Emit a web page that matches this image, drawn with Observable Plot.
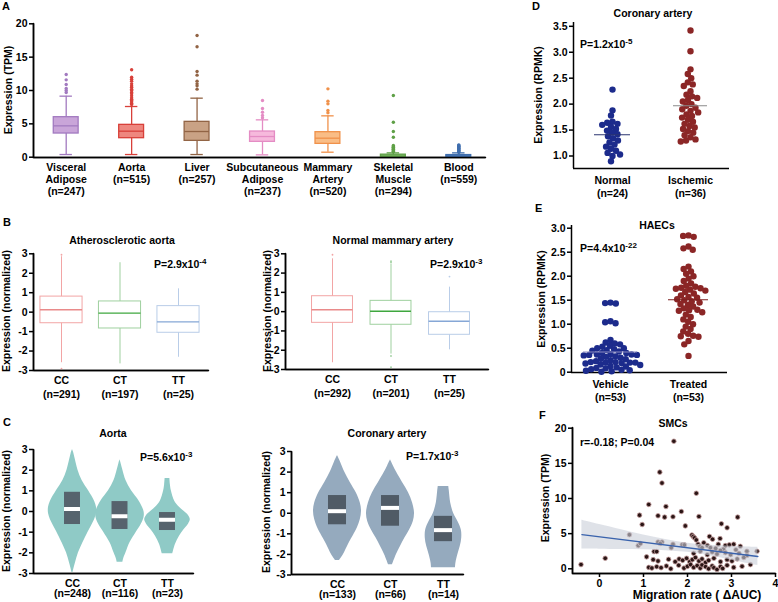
<!DOCTYPE html>
<html><head><meta charset="utf-8">
<script src="https://cdn.jsdelivr.net/npm/d3@7"></script>
<script src="https://cdn.jsdelivr.net/npm/@observablehq/plot@0.6"></script>
<style>
body{margin:0;background:#fff;}
#fig{position:relative;width:778px;height:602px;overflow:hidden;background:#fff;font-family:'Liberation Sans',Arial,Helvetica,sans-serif;font-weight:bold;color:#000;}
.panel{position:absolute;}
.panel svg{position:absolute;left:0;top:0;}
.lbl{position:absolute;white-space:nowrap;}
.lbl sup{font-size:8px;vertical-align:4px;line-height:0;}
</style>
</head><body><div id="fig"></div>
<script>
// ---------------- DATA ----------------
// Panel A: tissues (TPM box plots)
const tissues = ["Visceral Adipose","Aorta","Liver","Subcutaneous Adipose","Mammary Artery","Skeletal Muscle","Blood"];
const tissueN = [247,515,257,237,520,294,559];
const tpmLow = [0.4,0.4,0.4,0.35,0.75,0,0];
const tpmQ1 = [3.55,2.85,2.45,2.3,2.0,0.02,0.05];
const tpmMedian = [4.7,3.9,3.85,3.1,2.85,0.12,0.16];
const tpmQ3 = [6.0,4.85,5.3,3.85,3.75,0.38,0.32];
const tpmHigh = [9.15,7.6,8.85,5.6,6.2,0.65,0.65];
const tpmOutliers = [
  [9.7,10.0,10.3,10.9,11.6,12.4],
  [7.9,8.1,8.3,8.5,8.7,8.9,9.2,9.5,9.7,10.0,10.2,10.5,10.7,11.0,11.4,11.7,12.0,13.1],
  [10.2,10.7,11.0,11.4,12.3,12.85,16.55,18.25],
  [5.9,6.25,6.75,7.3,8.5],
  [6.65,7.0,8.0,8.4,10.25],
  [0.8,0.9,1.0,1.1,1.2,1.3,1.4,1.5,1.6,1.75,3.0,3.85,5.25,9.25],
  [0.75,0.85,0.95,1.05,1.15,1.25,1.35,1.45,1.55,1.65,1.75,1.85]
];
const tpmTicks = [0,5,10,15,20];

// Panel B: genotype box plots (normalized expression)
const genotypes = ["CC","CT","TT"];
const normTicks = [-3,-2,-1,0,1,2,3];
const athN = [291,197,25];
const athLow = [-2.6,-2.66,-2.32];
const athQ1 = [-0.57,-0.84,-1.06];
const athMedian = [0.12,-0.05,-0.5];
const athQ3 = [0.8,0.55,0.31];
const athHigh = [2.85,2.54,1.2];
const athOutliers = [[2.95,-2.9],[],[]];
const mamN = [292,201,25];
const mamLow = [-2.65,-2.2,-1.98];
const mamQ1 = [-0.58,-0.68,-1.2];
const mamMedian = [0.1,0.02,-0.5];
const mamQ3 = [0.8,0.56,-0.03];
const mamHigh = [2.74,2.45,1.27];
const mamOutliers = [[2.95],[2.55,2.62,-2.3,-2.88],[1.82]];

// Panel C: violins (y, relative half-width)
const aorN = [248,116,23];
const aorQ1 = [-0.63,-0.87,-0.92];
const aorMedian = [0.12,-0.23,-0.4];
const aorQ3 = [0.93,0.48,-0.05];
const violinAortaCC = [[3.0,0],[2.8,0.06],[2.5,0.12],[2.0,0.23],[1.5,0.4],[1.0,0.67],[0.5,0.92],[0.2,1],[-0.1,1],[-0.4,0.92],[-0.7,0.79],[-1.0,0.65],[-1.5,0.44],[-2.0,0.25],[-2.5,0.12],[-2.95,0.02]];
const violinAortaCT = [[2.5,0],[2.3,0.05],[2.0,0.12],[1.5,0.25],[1.0,0.48],[0.5,0.8],[0.0,1],[-0.3,1],[-0.7,0.85],[-1.0,0.68],[-1.5,0.42],[-2.0,0.25],[-2.3,0.15],[-2.45,0.12]];
const violinAortaTT = [[1.6,0.1],[1.3,0.12],[1.0,0.16],[0.5,0.3],[0.2,0.5],[0.0,0.7],[-0.2,0.88],[-0.4,0.95],[-0.6,0.88],[-0.9,0.68],[-1.2,0.5],[-1.6,0.33],[-2.05,0.22]];
const corN = [133,66,14];
const corQ1 = [-0.56,-0.63,-1.38];
const corMedian = [0.1,0.26,-0.82];
const corQ3 = [0.86,0.86,-0.15];
const violinCoronaryCC = [[2.8,0],[2.5,0.12],[2.0,0.3],[1.5,0.53],[1.0,0.78],[0.5,0.95],[0.1,1],[-0.3,0.95],[-0.7,0.83],[-1.0,0.7],[-1.5,0.46],[-2.0,0.25],[-2.3,0.08]];
const violinCoronaryCT = [[2.6,0],[2.3,0.12],[2.0,0.25],[1.5,0.5],[1.0,0.75],[0.5,0.92],[0.0,1],[-0.4,0.95],[-0.8,0.8],[-1.2,0.6],[-1.6,0.42],[-2.0,0.25],[-2.5,0.08]];
const violinCoronaryTT = [[1.3,0.22],[1.1,0.24],[0.5,0.3],[0.0,0.42],[-0.4,0.6],[-0.8,0.74],[-1.2,0.76],[-1.6,0.7],[-2.0,0.6],[-2.4,0.52],[-2.65,0.5]];

// Panel D: coronary artery dot plot (RPMK)
const dGroups = ["Normal","Ischemic"];
const dN = [24,36];
const dNormal = [2.28,1.88,1.78,1.66,1.64,1.62,1.6,1.56,1.52,1.49,1.45,1.42,1.38,1.34,1.3,1.26,1.22,1.18,1.14,1.1,1.06,1.03,1.0,0.9];
const dIschemic = [3.42,3.02,2.67,2.58,2.5,2.42,2.38,2.35,2.25,2.18,2.15,2.12,2.08,2.05,2.0,1.97,1.93,1.9,1.87,1.84,1.8,1.77,1.74,1.7,1.66,1.62,1.58,1.55,1.52,1.48,1.45,1.4,1.36,1.32,1.3,1.28];
const dMeans = [1.41,1.97];
const dTicks = [1.0,1.5,2.0,2.5,3.0,3.5];

// Panel E: HAECs dot plot (RPMK)
const eGroups = ["Vehicle","Treated"];
const eN = [53,53];
const eVehicle = [1.45,1.44,1.43,1.06,1.04,1.02,0.67,0.62,0.6,0.58,0.55,0.53,0.5,0.5,0.48,0.46,0.45,0.43,0.4,0.4,0.38,0.37,0.37,0.36,0.36,0.35,0.33,0.32,0.3,0.28,0.27,0.25,0.23,0.21,0.21,0.2,0.2,0.2,0.19,0.18,0.16,0.15,0.13,0.12,0.1,0.09,0.08,0.06,0.05,0.04,0.03,0.02,0.01];
const eTreated = [2.85,2.84,2.82,2.62,2.58,2.55,2.2,2.15,2.1,2.05,2.0,1.95,1.9,1.85,1.8,1.78,1.76,1.75,1.74,1.72,1.7,1.67,1.64,1.6,1.57,1.55,1.52,1.5,1.48,1.45,1.42,1.4,1.37,1.33,1.3,1.29,1.28,1.25,1.2,1.15,1.1,1.05,1.0,0.95,0.9,0.85,0.8,0.76,0.75,0.74,0.65,0.58,0.34];
const eMeans = [0.42,1.51];
const eTicks = [0,0.5,1.0,1.5,2.0,2.5,3.0];

// Panel F: SMCs scatter
const smcRate = [1.69,1.37,1.42,2.2,1.12,1.51,1.86,0.91,1.33,1.48,1.67,2.26,3.14,0.97,1.95,2.77,2.9,0.68,-0.42,0.13,1.07,0.88,0.93,1.33,1.42,1.38,1.24,1.3,1.67,1.63,1.88,1.93,2.1,2.13,2.16,2.2,2.24,2.28,2.33,2.37,2.45,2.5,2.57,2.52,2.64,2.7,2.74,2.82,2.86,2.95,3.05,3.1,3.2,3.35,3.58,2.14,2.29,2.45,2.56,2.67,2.75,2.86,2.98,3.17,3.35,1.22,1.33,1.57,1.72,1.81,1.89,1.98,2.05,2.11,2.18,2.26,2.33,2.41,2.48,2.6,2.75,2.9,3.01,3.13,3.28,3.43,1.12,1.19,1.3,1.4,1.52,1.62,1.8,1.92,2.0,2.07,2.14,2.22,2.29,2.33,2.41,2.48,2.56,2.6,2.67,2.75,2.8,2.9,3.05,3.24];
const smcTPM = [18.15,13.75,12.2,10.75,9.15,8.86,8.15,7.63,7.54,7.35,7.4,7.44,7.35,6.3,6.1,6.4,5.83,4.84,0.6,1.5,1.7,3.3,3.6,3.8,3.8,3.6,2.45,2.45,3.5,3.0,3.4,3.4,4.8,4.6,4.4,4.1,3.5,3.2,3.0,3.7,3.3,4.6,4.2,3.0,2.9,3.5,4.3,2.8,3.3,3.4,3.5,2.7,3.2,2.5,2.5,2.2,2.5,2.0,2.4,2.1,2.6,2.3,2.0,2.2,1.9,1.3,1.1,1.35,1.0,1.4,1.2,1.5,1.0,1.3,1.6,1.1,1.4,0.9,1.2,1.5,1.0,1.3,1.1,1.4,1.6,0.6,0.2,0.1,0.3,0.15,0.4,0.0,0.5,0.1,0.35,0.6,0.2,0.45,0.1,0.55,0.3,0.0,0.4,0.15,-0.1,0.3,0.05,0.5,0.2,0.35];
const fitRate = [-0.4,3.6];
const fitTPM = [4.85,1.75];
const ciRate = [-0.4,0,0.5,1,1.5,2,2.5,3,3.6];
const ciLow = [2.8,2.79,2.75,2.71,2.58,2.34,1.85,1.22,0.45];
const ciHigh = [6.9,6.29,5.55,4.81,4.18,3.64,3.35,3.22,3.05];
const rateTicks = [0,1,2,3,4];

// ---------------- STYLE ----------------
const FONT = "'Liberation Sans', Arial, Helvetica, sans-serif";
const tissueFill = ["#c9a5d9","#ee877f","#c9a285","#f6b9dc","#f9bd86","#78b462","#5482bd"];
const tissueStroke = ["#a27ac0","#d8403a","#926445","#e48cc4","#f0914a","#5fa047","#3f6eae"];
const genoStroke = ["#f2a5a5","#9fd09f","#b9cde8"];
const genoMedian = ["#e98a8a","#3fa73f","#86a7d6"];

const fig = document.getElementById("fig");
const inv = (dom, rng, p) => dom[0] + (p - rng[0]) * (dom[1] - dom[0]) / (rng[1] - rng[0]);
const plotStyle = () => ({background: "transparent", overflow: "visible", fontFamily: FONT, fontSize: "10.5px", fontWeight: "bold", color: "#000"});

// box: svg placement; frame: [left, top, right, bottom] in page pixels; ranges in page pixels
function addPlot(box, frame, opts) {
  const {xDomain, xRange, yDomain, yRange, marks = [], x = {}, y = {}, axisLines = true, ...rest} = opts;
  const margins = {
    marginLeft: frame[0] - box.x, marginTop: frame[1] - box.y,
    marginRight: box.x + box.w - frame[2], marginBottom: box.y + box.h - frame[3]
  };
  const o = {width: box.w, height: box.h, ...margins, style: plotStyle(), ...rest};
  if (xDomain) o.x = {...x, domain: xDomain, range: xRange.map(v => v - box.x)};
  else if (Object.keys(x).length) o.x = x;
  o.y = {...y, domain: yDomain, range: yRange.map(v => v - box.y)};
  const pre = [];
  if (axisLines && xDomain) {
    // L-shaped axis line (left edge and bottom edge of the frame), through the plot's scales
    const xl = inv(xDomain, xRange, frame[0]), xr = inv(xDomain, xRange, frame[2]);
    const yt = inv(yDomain, yRange, frame[1]), yb = inv(yDomain, yRange, frame[3]);
    pre.push(Plot.line([[xl, yt], [xl, yb], [xr, yb]], {x: d => d[0], y: d => d[1], stroke: "#000", strokeWidth: 1.5, strokeLinejoin: "miter"}));
  }
  o.marks = [...pre, ...marks];
  const wrap = document.createElement("div");
  wrap.className = "panel";
  Object.assign(wrap.style, {left: box.x + "px", top: box.y + "px", width: box.w + "px", height: box.h + "px"});
  wrap.appendChild(Plot.plot(o));
  if (axisLines) {
    const fw = frame[2] - frame[0], fh = frame[3] - frame[1];
    wrap.appendChild(Plot.plot({
      width: box.w, height: box.h, ...margins, style: plotStyle(),
      marks: [Plot.frame({stroke: "#000", strokeWidth: 1.5, strokeDasharray: `0 ${fw + fh} ${fw + fh}`})]
    }));
  }
  fig.appendChild(wrap);
}

function place(html, x, y, {anchor = "middle", size = 10.5, rotate = false} = {}) {
  const el = document.createElement("div");
  el.className = "lbl";
  el.innerHTML = html;
  el.style.fontSize = size + "px";
  el.style.lineHeight = size + "px";
  el.style.left = x + "px";
  el.style.top = y + "px";
  const tx = anchor === "middle" ? "-50%" : anchor === "end" ? "-100%" : "0";
  el.style.transform = `translate(${tx}, -50%)` + (rotate ? " rotate(-90deg)" : "");
  el.style.pointerEvents = "none";
  fig.appendChild(el);
}

const yAxisOpts = {tickSize: 4, tickPadding: 2, label: null, strokeWidth: 1.5};
// category axes: invisible short ticks (labels only)
const catAxis = (pad) => ({tickSize: 3, tickPadding: pad, strokeOpacity: 0, label: null});

// ---------------- PANEL A ----------------
const boxHalfA = 0.19, capHalfA = 0.095;
const tissueRows = tissues.map((t, i) => ({i, low: tpmLow[i], q1: tpmQ1[i], median: tpmMedian[i], q3: tpmQ3[i], high: tpmHigh[i], fill: tissueFill[i], stroke: tissueStroke[i]}));
const tissueOut = tissues.flatMap((t, i) => tpmOutliers[i].map(v => ({i, value: v, stroke: tissueStroke[i]})));
addPlot({x: 0, y: 0, w: 500, h: 200}, [33, 23, 485, 157], {
  xDomain: [0, 6], xRange: [65.7, 458.3],
  yDomain: [0, 20], yRange: [156.7, 23.3],
  color: {type: "identity"},
  marks: [
    Plot.ruleX(tissueRows, {x: "i", y1: "low", y2: "high", stroke: "stroke", strokeWidth: 1.3}),
    Plot.ruleY(tissueRows, {y: "low", x1: d => d.i - capHalfA, x2: d => d.i + capHalfA, stroke: "stroke", strokeWidth: 1.3}),
    Plot.ruleY(tissueRows, {y: "high", x1: d => d.i - capHalfA, x2: d => d.i + capHalfA, stroke: "stroke", strokeWidth: 1.3}),
    Plot.rect(tissueRows, {x1: d => d.i - boxHalfA, x2: d => d.i + boxHalfA, y1: "q1", y2: "q3", fill: "fill", stroke: "stroke", strokeWidth: 1.3}),
    Plot.ruleY(tissueRows, {y: "median", x1: d => d.i - boxHalfA, x2: d => d.i + boxHalfA, stroke: "stroke", strokeWidth: 1.3}),
    Plot.dot(tissueOut, {x: "i", y: "value", r: 1.7, fill: "stroke"}),
    Plot.axisY({...yAxisOpts, ticks: tpmTicks}),
    Plot.axisX({...catAxis(2), ticks: tissues.map((_, i) => i), lineHeight: 1.15,
      tickFormat: i => tissues[i].replace(" ", "\n") + "\n(n=" + tissueN[i] + ")"})
  ]
});

// ---------------- PANEL B ----------------
function boxPanel(box, frame, xRange, yRange, n, low, q1, med, q3, high, outs, half) {
  const rows = genotypes.map((g, i) => ({i, low: low[i], q1: q1[i], median: med[i], q3: q3[i], high: high[i], stroke: genoStroke[i], med: genoMedian[i]}));
  const outRows = genotypes.flatMap((g, i) => outs[i].map(v => ({i, value: v, stroke: genoStroke[i]})));
  addPlot(box, frame, {
    xDomain: [0, 2], xRange, yDomain: [-3, 3], yRange,
    color: {type: "identity"},
    marks: [
      Plot.ruleX(rows, {x: "i", y1: "low", y2: "high", stroke: "stroke", strokeWidth: 1}),
      Plot.rect(rows, {x1: d => d.i - half, x2: d => d.i + half, y1: "q1", y2: "q3", fill: "white", stroke: "stroke", strokeWidth: 1}),
      Plot.ruleY(rows, {y: "median", x1: d => d.i - half, x2: d => d.i + half, stroke: "med", strokeWidth: 1.4}),
      Plot.dot(outRows, {x: "i", y: "value", r: 0.9, fill: "stroke"}),
      Plot.axisY({...yAxisOpts, ticks: normTicks, tickFormat: d => String(d)}),
      Plot.axisX({...catAxis(1), ticks: [0, 1, 2], lineHeight: 1.3,
        tickFormat: i => genotypes[i] + "\n(n=" + n[i] + ")"})
    ]
  });
}
boxPanel({x: 0, y: 245, w: 240, h: 160}, [33, 253, 208, 370], [61, 178], [370, 253.3], athN, athLow, athQ1, athMedian, athQ3, athHigh, athOutliers, 0.36);
boxPanel({x: 250, y: 245, w: 270, h: 160}, [285, 253, 488, 369], [332, 449], [369, 253.3], mamN, mamLow, mamQ1, mamMedian, mamQ3, mamHigh, mamOutliers, 0.35);

// ---------------- PANEL C ----------------
function violinPanel(box, frame, xRange, yRange, n, q1, med, q3, profiles, peak, boxHalf, fill, boxFill) {
  const vRows = profiles.flatMap((p, i) => p.map(([y, w]) => ({g: genotypes[i], y, x1: i - w * peak, x2: i + w * peak})));
  const bRows = genotypes.map((g, i) => ({g, x1: i - boxHalf, x2: i + boxHalf, q1: q1[i], median: med[i], q3: q3[i]}));
  addPlot(box, frame, {
    xDomain: [0, 2], xRange, yDomain: [-3, 3], yRange,
    marks: [
      Plot.areaX(vRows, {y: "y", x1: "x1", x2: "x2", z: "g", fill, curve: "catmull-rom"}),
      Plot.rect(bRows, {x1: "x1", x2: "x2", y1: "q1", y2: "q3", fill: boxFill}),
      Plot.ruleY(bRows, {y: "median", x1: "x1", x2: "x2", stroke: "white", strokeWidth: 4}),
      Plot.axisY({...yAxisOpts, ticks: normTicks, tickFormat: d => String(d)}),
      Plot.axisX({...catAxis(3), ticks: [0, 1, 2], lineHeight: 1.0,
        tickFormat: i => genotypes[i] + "\n(n=" + n[i] + ")"})
    ]
  });
}
violinPanel({x: 0, y: 440, w: 240, h: 162}, [33, 449, 193, 573], [72, 167], [573, 449], aorN, aorQ1, aorMedian, aorQ3,
  [violinAortaCC, violinAortaCT, violinAortaTT], 0.505, 0.168, "#8fcac6", "#56636d");
violinPanel({x: 250, y: 440, w: 270, h: 162}, [291, 451, 463, 574], [337, 443], [574.5, 451], corN, corQ1, corMedian, corQ3,
  [violinCoronaryCC, violinCoronaryCT, violinCoronaryTT], 0.453, 0.17, "#95aabe", "#505b66");

// ---------------- PANELS D / E ----------------
function dotPanel(box, frame, yRange, yDomain, groups, n, values, means, ticks, tickFmt, colors, meanColors, insets) {
  const rows = groups.flatMap((g, i) => values[i].map(v => ({g, value: v, c: colors[i]})));
  const mRows = groups.map((g, i) => ({g, mean: means[i], c: meanColors[i]}));
  const yt = inv(yDomain, yRange, frame[1]), yb = inv(yDomain, yRange, frame[3]);
  addPlot(box, frame, {
    fx: {domain: groups, padding: 0},
    x: {domain: [0, 1], axis: null},
    yDomain, yRange,
    axisLines: false,
    color: {type: "identity"},
    marks: [
      Plot.ruleY([yb], {strokeWidth: 1.5}),
      Plot.ruleX([groups[0]], {fx: d => d, x: () => 0, y1: yb, y2: yt, strokeWidth: 1.5}),
      Plot.dot(rows, Plot.dodgeX({anchor: "middle", padding: -1}, {fx: "g", y: "value", r: 3.2, fill: "c"})),
      Plot.tickY(mRows.slice(0, 1), {fx: "g", y: "mean", stroke: "c", strokeWidth: 1.1, insetLeft: insets[0], insetRight: insets[0]}),
      Plot.tickY(mRows.slice(1), {fx: "g", y: "mean", stroke: "c", strokeWidth: 1.1, insetLeft: insets[1], insetRight: insets[1]}),
      Plot.axisY({...yAxisOpts, ticks, tickFormat: tickFmt}),
      Plot.axisFx({anchor: "bottom", tickSize: 0, tickPadding: 6, label: null, lineHeight: 1.25,
        tickFormat: d => d + "\n(n=" + n[groups.indexOf(d)] + ")"})
    ]
  });
}
dotPanel({x: 530, y: 15, w: 248, h: 185}, [572, 22, 729, 168], [155.5, 25.8], [1, 3.5], dGroups, dN, [dNormal, dIschemic], dMeans,
  dTicks, d => d.toFixed(1), ["#1c2b8c", "#8b2626"], ["#2b3570", "#8a8a8a"], [21, 22]);
dotPanel({x: 530, y: 215, w: 248, h: 185}, [570, 225, 727, 372], [371.7, 227.7], [0, 3], eGroups, eN, [eVehicle, eTreated], eMeans,
  eTicks, d => d === 0 ? "0" : d.toFixed(1), ["#1c2b8c", "#8b2626"], ["#8c8cc0", "#7e2020"], [12, 19]);

// ---------------- PANEL F ----------------
const smcRows = smcRate.map((x, i) => ({x, y: smcTPM[i]}));
const ciRows = ciRate.map((x, i) => ({x, lo: ciLow[i], hi: ciHigh[i]}));
const fitRows = fitRate.map((x, i) => ({x, y: fitTPM[i]}));
addPlot({x: 530, y: 420, w: 248, h: 182}, [572, 427, 775, 573], {
  xDomain: [0, 4], xRange: [599, 775],
  yDomain: [0, 20], yRange: [568.3, 427.7],
  marks: [
    Plot.dot(smcRows, {x: "x", y: "y", r: 2.3, fill: "#2a1515", stroke: "#c79f9f", strokeWidth: 0.8}),
    Plot.areaY(ciRows, {x: "x", y1: "lo", y2: "hi", fill: "#c9ced8", fillOpacity: 0.6, curve: "catmull-rom"}),
    Plot.line(fitRows, {x: "x", y: "y", stroke: "#3a63ad", strokeWidth: 1.3}),
    Plot.axisY({...yAxisOpts, ticks: tpmTicks}),
    Plot.axisX({ticks: rateTicks, tickSize: 4, tickPadding: 2, label: null, strokeWidth: 1.5, tickFormat: d => String(d)})
  ]
});

// ---------------- TEXT ----------------
place("A", 2, 6, {anchor: "start", size: 11});
place("B", 3, 222, {anchor: "start", size: 11});
place("C", 3, 422, {anchor: "start", size: 11});
place("D", 532, 6, {anchor: "start", size: 11});
place("E", 535, 208, {anchor: "start", size: 11});
place("F", 539, 415, {anchor: "start", size: 11});
place("Atherosclerotic aorta", 122, 240);
place("Normal mammary artery", 393, 240);
place("Aorta", 113, 433);
place("Coronary artery", 387, 433);
place("Coronary artery", 653, 13);
place("HAECs", 657, 225);
place("SMCs", 673, 423);
place("P=2.9x10<sup>-4</sup>", 154, 264, {anchor: "start"});
place("P=2.9x10<sup>-3</sup>", 430, 264, {anchor: "start"});
place("P=5.6x10<sup>-3</sup>", 140, 457, {anchor: "start"});
place("P=1.7x10<sup>-3</sup>", 406, 456, {anchor: "start"});
place("P=1.2x10<sup>-5</sup>", 580, 44, {anchor: "start"});
place("P=4.4x10<sup>-22</sup>", 580, 248, {anchor: "start"});
place("r=-0.18; P=0.04", 580, 442, {anchor: "start"});
place("Expression (TPM)", 8, 90, {rotate: true});
place("Expression (normalized)", 6, 311, {rotate: true});
place("Expression (normalized)", 267, 311, {rotate: true});
place("Expression (normalized)", 6, 511, {rotate: true});
place("Expression (normalized)", 266, 512, {rotate: true});
place("Expression (RPMK)", 538, 95, {rotate: true});
place("Expression (RPMK)", 541, 299, {rotate: true});
place("Expression (TPM)", 545, 498, {rotate: true});
place("Migration rate ( ΔAUC)", 697, 595, {size: 12});
</script></body></html>
